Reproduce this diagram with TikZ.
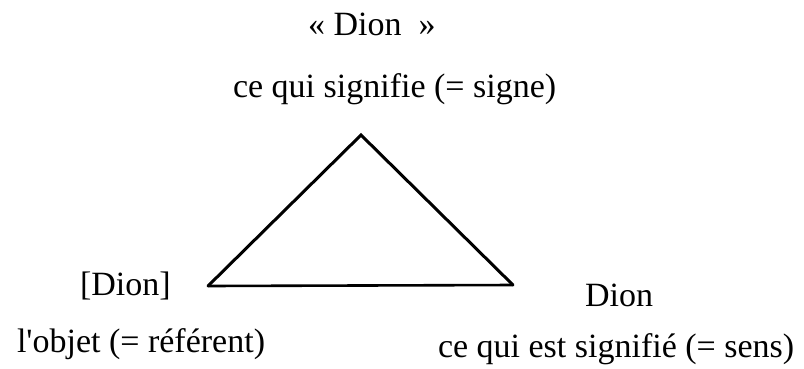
\documentclass[tikz,border=0pt]{standalone}
\usepackage{fontspec}
\setmainfont{Liberation Serif}
\newfontfamily\plainquote{Liberation Serif}[Ligatures=ResetAll]
\begin{document}
\begin{tikzpicture}[x=1pt,y=-1pt,
  lbl/.style={inner sep=0pt,outer sep=0pt,anchor=base west,font=\fontsize{34}{40}\selectfont},
  edge/.style={line width=3pt,line cap=round,line join=miter}]
\useasboundingbox[fill=white] (0,0) rectangle (804,368);
\node[lbl] (sig) at (308,35) {«~Dion~~»};
\node[lbl] (sigt) at (233,97) {ce qui signifie (= signe)};
\node[lbl] (ref) at (80,295) {[Dion]};
\node[lbl] (reft) at (17,352) {l{\plainquote '}objet (= référent)};
\node[lbl] (sens) at (585,306) {Dion};
\node[lbl] (senst) at (438,357) {ce qui est signifié (= sens)};
\coordinate (A) at (361,135);
\coordinate (L) at (208,286);
\coordinate (R) at (513,285);
\draw[edge] (L) -- (A) -- (R);
\draw[line width=2.6pt] (L) -- (R);
\end{tikzpicture}
\end{document}
